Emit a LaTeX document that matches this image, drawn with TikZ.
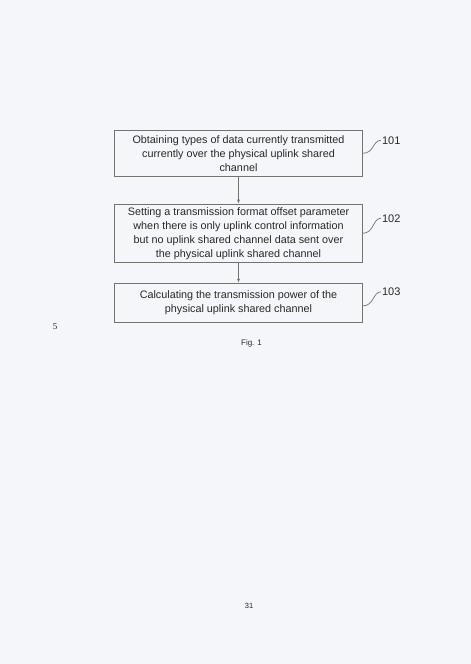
\documentclass[tikz,border=0pt]{standalone}
\usepackage{fontspec}
\setmainfont{Liberation Sans}
\newfontfamily\linefont{Liberation Serif}
\usetikzlibrary{positioning,arrows.meta}
\definecolor{paper}{RGB}{244,246,249}
\definecolor{ink}{RGB}{40,40,40}
\definecolor{rule}{RGB}{115,115,115}

\begin{document}
\begin{tikzpicture}[x=1pt, y=1pt, >={Latex[length=4pt,width=3pt]}, every node/.style={font=\fontsize{10.8}{14}\selectfont, text=ink}]
\tikzstyle{box}=[draw=rule, line width=0.8pt, minimum width=248pt, align=center, inner sep=0pt]
\tikzstyle{tag}=[anchor=west, inner sep=1pt, font=\fontsize{11}{13}\selectfont]
\tikzstyle{lead}=[draw=rule, line width=0.7pt]
\fill[paper] (0,0) rectangle (471,-664);
\useasboundingbox (0,0) rectangle (471,-664);
\node[box, minimum height=46.7pt] (obtain) at (238.5,-153.3) {Obtaining types of data currently transmitted\\currently over the physical uplink shared\\channel};
\node[box, minimum height=58.4pt, below=26.6pt of obtain] (setting) {Setting a transmission format offset parameter\\when there is only uplink control information\\but no uplink shared channel data sent over\\the physical uplink shared channel};
\node[box, minimum height=39.3pt, below=20pt of setting] (calc) {Calculating the transmission power of the\\physical uplink shared channel};
\draw[->, rule, line width=0.7pt] (obtain)--(setting);
\draw[->, rule, line width=0.7pt] (setting)--(calc);
% reference numerals
\node[tag] (t101) at ([shift={(18,13)}]obtain.east) {101};
\node[tag] (t102) at ([shift={(18,15)}]setting.east) {102};
\node[tag] (t103) at ([shift={(18,11)}]calc.east) {103};
\draw[lead] (obtain.east) .. controls +(11,0) and +(-8,0) .. (t101.west);
\draw[lead] (setting.east) .. controls +(11,0) and +(-8,0) .. (t102.west);
\draw[lead] ([yshift=-3pt]calc.east) .. controls +(11,0) and +(-8,0) .. (t103.west);
\node[font=\fontsize{8}{10}\selectfont] (fig) at (251.5,-343) {Fig. 1};
\node[font=\linefont\fontsize{9}{11}\selectfont] (lineno) at (55,-327) {5};
\node[font=\fontsize{7.5}{9}\selectfont] (pageno) at (249,-605.5) {31};
\end{tikzpicture}
\end{document}
